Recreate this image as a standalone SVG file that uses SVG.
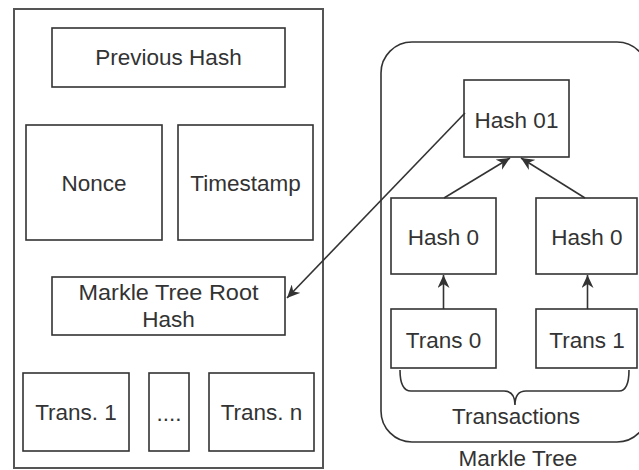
<svg xmlns="http://www.w3.org/2000/svg" width="639" height="470" viewBox="0 0 639 470">
  <style>
    .box { fill: #ffffff; stroke: #333333; stroke-width: 1.6; }
    .frame { fill: #ffffff; stroke: #555555; stroke-width: 2; }
    .label { font-family: "Liberation Sans", Arial, sans-serif; font-size: 22.5px; fill: #333333; text-anchor: middle; }
    .edge { fill: none; stroke: #333333; stroke-width: 1.6; }
  </style>
  <defs>
    <marker id="arrow" markerUnits="userSpaceOnUse" markerWidth="14" markerHeight="12" refX="13" refY="6" orient="auto">
      <path d="M0,0 L13,6 L0,12 L4,6 Z" fill="#333333"/>
    </marker>
  </defs>

  <rect width="639" height="470" fill="#ffffff"/>

  <!-- Block -->
  <g id="block">
    <rect class="frame" x="14" y="9" width="309" height="459"/>
  </g>
  <g id="previous-hash">
    <rect class="box" x="52" y="28" width="233" height="59"/>
    <text class="label" x="168.5" y="65">Previous Hash</text>
  </g>
  <g id="nonce">
    <rect class="box" x="26" y="125" width="136" height="115"/>
    <text class="label" x="94" y="191">Nonce</text>
  </g>
  <g id="timestamp">
    <rect class="box" x="178" y="125" width="135" height="115"/>
    <text class="label" x="245.5" y="191">Timestamp</text>
  </g>
  <g id="merkle-root">
    <rect class="box" x="52" y="277" width="233" height="58"/>
    <text class="label" x="168.5" y="300" textLength="180" lengthAdjust="spacingAndGlyphs">Markle Tree Root</text>
    <text class="label" x="168.5" y="327">Hash</text>
  </g>
  <g id="trans-1">
    <rect class="box" x="23" y="373" width="106" height="78"/>
    <text class="label" x="76" y="420">Trans. 1</text>
  </g>
  <g id="trans-dots">
    <rect class="box" x="149" y="373" width="40" height="78"/>
    <text class="label" x="169" y="421">....</text>
  </g>
  <g id="trans-n">
    <rect class="box" x="209" y="373" width="105" height="78"/>
    <text class="label" x="261.5" y="420">Trans. n</text>
  </g>

  <!-- Merkle tree -->
  <g id="markle-tree">
    <rect class="box" x="381" y="42" width="267" height="400" rx="31" ry="31"/>
    <text class="label" x="518" y="466">Markle Tree</text>
  </g>
  <g id="hash-01">
    <rect class="box" x="464" y="80" width="105" height="77"/>
    <text class="label" x="516.5" y="128">Hash 01</text>
  </g>
  <g id="hash-0-left">
    <rect class="box" x="391" y="198" width="105" height="76"/>
    <text class="label" x="443.5" y="245">Hash 0</text>
  </g>
  <g id="hash-0-right">
    <rect class="box" x="536" y="198" width="101" height="76"/>
    <text class="label" x="587" y="245">Hash 0</text>
  </g>
  <g id="trans-0">
    <rect class="box" x="391" y="309" width="105" height="59"/>
    <text class="label" x="443.5" y="348">Trans 0</text>
  </g>
  <g id="trans-1-tree">
    <rect class="box" x="536" y="309" width="101" height="59"/>
    <text class="label" x="587" y="348">Trans 1</text>
  </g>
  <g id="transactions">
    <path class="edge" d="M400,370 Q400,391 411,391 L504,391 Q515,391 515,405 Q515,391 526,391 L619,391 Q629,391 629,370"/>
    <text class="label" x="516" y="424">Transactions</text>
  </g>

  <!-- Connectors -->
  <g id="connectors">
    <line class="edge" x1="443.5" y1="309" x2="443.5" y2="275" marker-end="url(#arrow)"/>
    <line class="edge" x1="587.5" y1="309" x2="587.5" y2="275" marker-end="url(#arrow)"/>
    <line class="edge" x1="444" y1="198" x2="510" y2="158" marker-end="url(#arrow)"/>
    <line class="edge" x1="585" y1="198" x2="521" y2="158" marker-end="url(#arrow)"/>
    <line class="edge" x1="465" y1="113" x2="287" y2="298" marker-end="url(#arrow)"/>
  </g>
</svg>
